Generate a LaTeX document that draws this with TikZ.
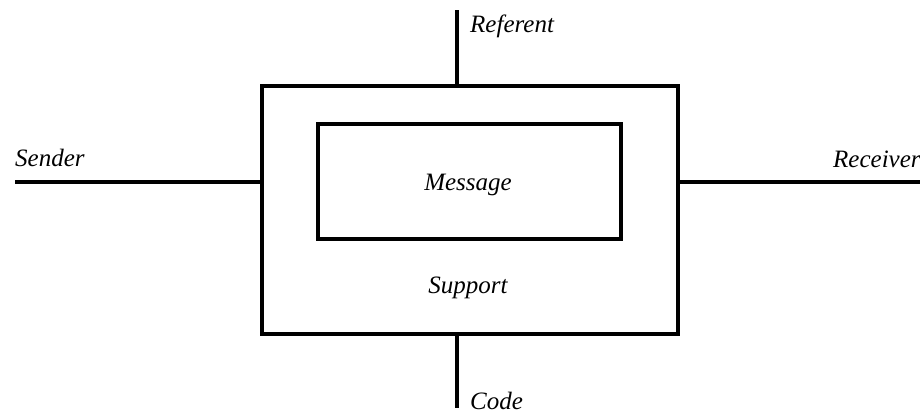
\documentclass[tikz,border=0pt]{standalone}
\usepackage{fontspec}
\setmainfont{Liberation Serif}
\begin{document}
\begin{tikzpicture}[x=1pt,y=-1pt,
  frame/.style={draw=black,line width=3.2pt,inner sep=0pt},
  wire/.style={draw=black,line width=3.2pt},
  lbl/.style={inner sep=0pt,font=\fontsize{25}{30}\selectfont\itshape}]
  \useasboundingbox (0,0) rectangle (920,416);
  \clip (0,0) rectangle (920,416);
  % support (outer) and message (inner) boxes
  \node[frame,minimum width=416pt,minimum height=248pt] (support) at (470,210) {};
  \node[frame,minimum width=303pt,minimum height=115pt] (message) at (469.5,181.5) {};
  \node[lbl,anchor=base] (msgtext) at (468,190) {Message};
  \node[lbl,anchor=base] (suptext) at (468,293) {Support};
  % free ends of the four connectors
  \coordinate (refend) at (457,10);
  \coordinate (codeend) at (457,408);
  \coordinate (sendend) at (15,182);
  \coordinate (recvend) at (930,182);
  \draw[wire] (support.north -| refend) -- (refend);
  \draw[wire] (support.south -| codeend) -- (codeend);
  \draw[wire] (support.west |- sendend) -- (sendend);
  \draw[wire] (support.east |- recvend) -- (recvend);
  % labels
  \node[lbl,anchor=base west] (referent) at (470,32) {Referent};
  \node[lbl,anchor=base west] (sender) at (15,166) {Sender};
  \node[lbl,anchor=base west] (receiver) at (833,167) {Receiver};
  \node[lbl,anchor=base west] (code) at (470,409) {Code};
\end{tikzpicture}
\end{document}
